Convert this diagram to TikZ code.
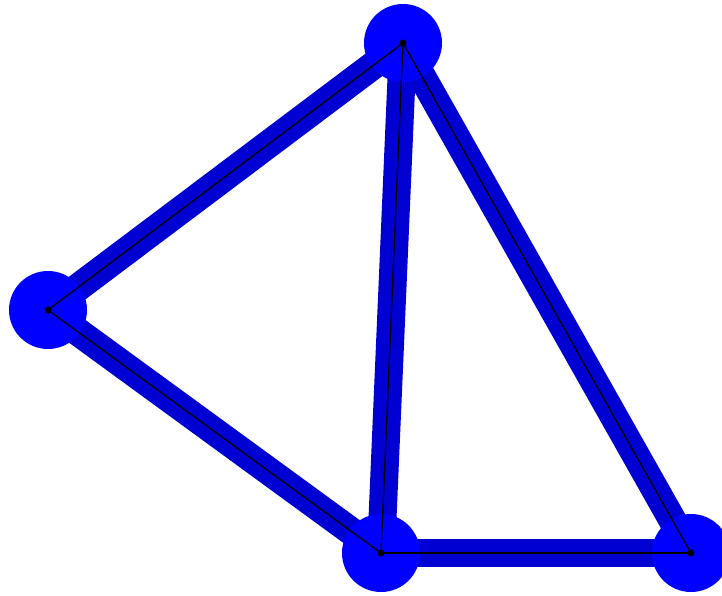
\documentclass[tikz,border=0pt]{standalone}
\usetikzlibrary{backgrounds}
\definecolor{edgeblue}{RGB}{0,0,210}
\begin{document}
\begin{tikzpicture}[x=1pt,y=-1pt,
  vtx/.style={circle,fill=blue,draw=none,minimum size=78pt,inner sep=0pt},
  dot/.style={circle,fill=black,draw=none,minimum size=7pt,inner sep=0pt},
  thick edge/.style={draw=edgeblue,line width=28pt},
  thin edge/.style={draw=black,line width=1.3pt}]
\useasboundingbox (0,0) rectangle (722,596);
\node[vtx] (t) at (403,43) {};
\node[vtx] (l) at (48,310) {};
\node[vtx] (b) at (381,553) {};
\node[vtx] (r) at (691,553) {};
\begin{scope}[on background layer]
  \draw[thick edge] (t.center) -- (l.center);
  \draw[thick edge] (t.center) -- (b.center);
  \draw[thick edge] (t.center) -- (r.center);
  \draw[thick edge] (l.center) -- (b.center);
  \draw[thick edge] (b.center) -- (r.center);
\end{scope}
\draw[thin edge] (t.center) -- (l.center);
\draw[thin edge] (t.center) -- (b.center);
\draw[thin edge] (t.center) -- (r.center);
\draw[thin edge] (l.center) -- (b.center);
\draw[thin edge] (b.center) -- (r.center);
\node[dot] (dt) at (t.center) {};
\node[dot] (dl) at (l.center) {};
\node[dot] (db) at (b.center) {};
\node[dot] (dr) at (r.center) {};
\end{tikzpicture}
\end{document}
